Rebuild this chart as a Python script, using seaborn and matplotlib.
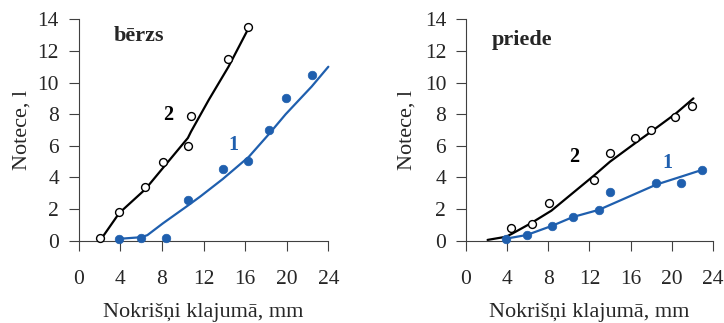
import numpy as np
import pandas as pd
import matplotlib
matplotlib.use("Agg")
import matplotlib.pyplot as plt
import seaborn as sns

# --- bērzs (birch) ---
berzs_x2 = [2.0, 3.9, 6.4, 8.1, 10.5, 10.8, 14.4, 16.3]
berzs_y2 = [0.2, 1.8, 3.4, 5.0, 6.0, 7.9, 11.5, 13.5]
berzs_x1 = [3.9, 6.0, 8.4, 10.5, 13.9, 16.3, 18.3, 19.9, 22.4]
berzs_y1 = [0.13, 0.2, 0.2, 2.55, 4.55, 5.05, 7.0, 9.0, 10.5]
# trend curves
berzs_fx2 = [2.1, 3.9, 6.4, 8.1, 10.5, 10.8, 12.5, 14.4, 16.3]
berzs_fy2 = [0.05, 1.75, 3.25, 4.6, 6.5, 6.9, 8.9, 11.0, 13.4]
berzs_fx1 = [3.9, 6.0, 6.6, 8.1, 10.45, 11.7, 13.85, 16.35, 18.3, 19.9, 22.4, 24.0]
berzs_fy1 = [0.12, 0.22, 0.35, 1.1, 2.2, 2.8, 3.9, 5.3, 6.75, 8.0, 9.75, 11.0]

# --- priede (pine) ---
priede_x2 = [4.4, 6.4, 8.1, 12.4, 14.0, 16.4, 18.0, 20.3, 22.0]
priede_y2 = [0.82, 1.05, 2.4, 3.85, 5.55, 6.5, 7.0, 7.8, 8.5]
priede_x1 = [3.9, 5.9, 8.4, 10.4, 12.9, 14.0, 18.5, 20.9, 22.9]
priede_y1 = [0.13, 0.34, 0.9, 1.5, 1.95, 3.05, 3.65, 3.65, 4.45]
priede_fx2 = [2.1, 3.9, 4.5, 6.3, 8.3, 12.4, 14.0, 16.4, 18.0, 20.4, 22.1]
priede_fy2 = [0.05, 0.25, 0.45, 1.1, 1.9, 4.1, 5.0, 6.15, 6.9, 8.05, 9.0]
priede_fx1 = [3.9, 5.9, 8.4, 10.4, 12.9, 18.5, 20.9, 22.9]
priede_fy1 = [0.13, 0.36, 0.95, 1.5, 1.95, 3.55, 4.05, 4.47]

xticks = [0, 4, 8, 12, 16, 20, 24]
yticks = [0, 2, 4, 6, 8, 10, 12, 14]
xlabel = "Nokrišņi klajumā, mm"
ylabel = "Notece, l"

sns.set_style("ticks")
plt.rcParams["font.family"] = ["Liberation Serif", "DejaVu Serif"]

BLUE = "#1f5fae"
AXC = "#404040"

fig = plt.figure(figsize=(7.24, 3.23), dpi=100)
ax_l = fig.add_axes([0.1087, 0.2548, 0.3448, 0.6854])
ax_r = fig.add_axes([0.6436, 0.2548, 0.3412, 0.6854])

panels = [
    (ax_l, "bērzs", (berzs_x2, berzs_y2, berzs_x1, berzs_y1),
     (berzs_fx2, berzs_fy2, berzs_fx1, berzs_fy1),
     (3.33, 12.65), (8.56, 7.63), (14.87, 5.74), -0.208),
    (ax_r, "priede", (priede_x2, priede_y2, priede_x1, priede_y1),
     (priede_fx2, priede_fy2, priede_fx1, priede_fy1),
     (2.46, 12.38), (10.53, 5.0), (19.6, 4.58), -0.219),
]

for ax, title, pts, fits, tpos, p2, p1, ylx in panels:
    x2, y2, x1, y1 = pts
    fx2, fy2, fx1, fy1 = fits
    sns.lineplot(x=fx2, y=fy2, sort=False, ax=ax, color="black", lw=1.6,
                 estimator=None, zorder=2)
    sns.lineplot(x=fx1, y=fy1, sort=False, ax=ax, color=BLUE, lw=1.6,
                 estimator=None, zorder=2)
    sns.scatterplot(x=x2, y=y2, ax=ax, s=32, facecolor="white",
                    edgecolor="black", linewidth=1.0, zorder=3)
    sns.scatterplot(x=x1, y=y1, ax=ax, s=38, color=BLUE,
                    edgecolor=BLUE, linewidth=0.5, zorder=3)

    ax.text(tpos[0], tpos[1], title, fontsize=16, fontweight="bold",
            va="baseline", ha="left")
    ax.text(p2[0], p2[1], "2", fontsize=14.5, fontweight="bold",
            va="baseline", ha="center", color="black")
    ax.text(p1[0], p1[1], "1", fontsize=14.5, fontweight="bold",
            va="baseline", ha="center", color=BLUE)

    ax.set_xlim(0, 24)
    ax.set_ylim(0, 14)
    ax.set_xticks(xticks)
    ax.set_yticks(yticks)
    ax.set_xticklabels([str(v) for v in xticks])
    ax.set_yticklabels([str(v) for v in yticks])
    ax.tick_params(axis="x", direction="out", length=7, width=0.8,
                   color=AXC, labelsize=15.5, pad=14.4)
    ax.tick_params(axis="y", direction="out", length=7, width=0.8,
                   color=AXC, labelsize=15.5, pad=7.2)
    for s in ["top", "right"]:
        ax.spines[s].set_visible(False)
    for s in ["left", "bottom"]:
        ax.spines[s].set_color(AXC)
        ax.spines[s].set_linewidth(0.8)
    ax.set_xlabel(xlabel, fontsize=16)
    ax.set_ylabel(ylabel, fontsize=16)
    ax.xaxis.label.set_verticalalignment("baseline")
    ax.yaxis.label.set_verticalalignment("baseline")
    ax.xaxis.set_label_coords(0.5, -0.343)
    ax.yaxis.set_label_coords(ylx, 0.5)
    ax.patch.set_alpha(0)
    for c in ax.collections:
        c.set_clip_on(False)
    for ln in ax.lines:
        ln.set_clip_on(False)

fig.savefig("out.png", dpi=100, facecolor="white")
